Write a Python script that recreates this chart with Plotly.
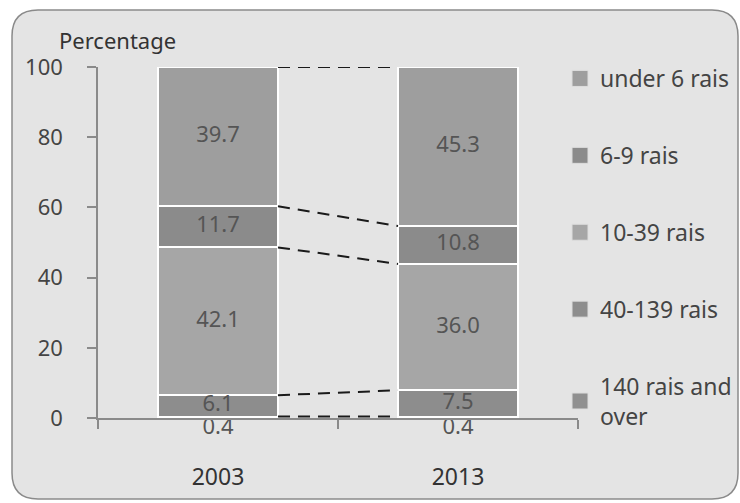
import plotly.graph_objects as go

years = ["2003", "2013"]
# stacked from bottom to top
categories = ["140 rais and<br>over", "40-139 rais", "10-39 rais", "6-9 rais", "under 6 rais"]
values_2003 = [0.4, 6.1, 42.1, 11.7, 39.7]
values_2013 = [0.4, 7.5, 36.0, 10.8, 45.3]
label_2003 = ["0.4", "6.1", "42.1", "11.7", "39.7"]
label_2013 = ["0.4", "7.5", "36.0", "10.8", "45.3"]
y_ticks = [0, 20, 40, 60, 80, 100]

colors = ["#909090", "#8d8d8d", "#a6a6a6", "#8b8b8b", "#9e9e9e"]

FONT = "Noto Sans"
xpos = [0, 1]
bw = 0.5

fig = go.Figure()
for i, cat in enumerate(categories):
    fig.add_trace(go.Bar(
        x=xpos, y=[values_2003[i], values_2013[i]], width=bw,
        name=cat, showlegend=False,
        marker=dict(color=colors[i], line=dict(color="white", width=2)),
        hoverinfo="skip",
    ))
# legend entries (square swatches), top item = last category
n = len(categories)
for i, cat in enumerate(categories):
    fig.add_trace(go.Scatter(
        x=[None], y=[None], mode="markers", name=cat,
        legendgroup=f"g{i}", legendrank=n - i,
        marker=dict(symbol="square", size=16, color=colors[i],
                    line=dict(color="#dddddd", width=1)),
    ))

# dashed connectors between cumulative boundaries
cum03, cum13 = [], []
s3 = s13 = 0
for a, b in zip(values_2003, values_2013):
    s3 += a; s13 += b
    cum03.append(s3); cum13.append(s13)
for a, b in zip(cum03, cum13):
    fig.add_trace(go.Scatter(
        x=[xpos[0] + bw / 2, xpos[1] - bw / 2], y=[a, b], mode="lines",
        line=dict(color="#1a1a1a", width=2, dash="12px,8px"),
        showlegend=False, hoverinfo="skip",
    ))

# segment labels
for xi, vals, labs in [(xpos[0], values_2003, label_2003), (xpos[1], values_2013, label_2013)]:
    mids, base = [], 0
    for v in vals:
        mids.append(base + v / 2)
        base += v
    pos = ["bottom center"] + ["middle center"] * (len(vals) - 1)
    fig.add_trace(go.Scatter(
        x=[xi] * len(vals), y=mids, mode="text", text=labs,
        textposition=pos, textfont=dict(family=FONT, size=22, color="#555555"),
        showlegend=False, hoverinfo="skip", cliponaxis=False,
    ))

W, H = 740, 503
L, R, T, B = 98, 162, 67, 85
pw, ph = W - L - R, H - T - B

def px(x):
    return (x - L) / pw

def py(y):
    return (H - B - y) / ph

# rounded panel background
x0, x1, y0, y1, r = 12, 738, 10, 499, 26
path = (f"M {px(x0 + r)},{py(y0)} L {px(x1 - r)},{py(y0)} "
        f"Q {px(x1)},{py(y0)} {px(x1)},{py(y0 + r)} "
        f"L {px(x1)},{py(y1 - r)} Q {px(x1)},{py(y1)} {px(x1 - r)},{py(y1)} "
        f"L {px(x0 + r)},{py(y1)} Q {px(x0)},{py(y1)} {px(x0)},{py(y1 - r)} "
        f"L {px(x0)},{py(y0 + r)} Q {px(x0)},{py(y0)} {px(x0 + r)},{py(y0)} Z")

fig.update_layout(
    width=W, height=H,
    margin=dict(l=L, r=R, t=T, b=B, autoexpand=False),
    paper_bgcolor="white", plot_bgcolor="rgba(0,0,0,0)",
    barmode="stack",
    font=dict(family=FONT, size=22, color="#444444"),
    shapes=[dict(type="path", xref="paper", yref="paper", path=path,
                 fillcolor="#e4e4e4", line=dict(color="#8a8a8a", width=1.5), layer="below")],
    annotations=[dict(text="Percentage", xref="paper", yref="paper",
                      x=px(57), y=py(40), xanchor="left", yanchor="middle",
                      showarrow=False, font=dict(family=FONT, size=22, color="#333333"))],
    legend=dict(x=px(560), y=py(57), xanchor="left", yanchor="top",
                traceorder="grouped", tracegroupgap=44, maxheight=440,
                itemsizing="trace",
                bgcolor="rgba(0,0,0,0)", font=dict(family=FONT, size=23, color="#444444")),
    showlegend=True,
)
fig.update_xaxes(
    range=[-0.5, 1.5], tickvals=xpos, ticktext=years, ticks="",
    showline=True, linecolor="#8a8a8a", linewidth=1.5, showgrid=False, zeroline=False,
    ticklabelstandoff=38, tickfont=dict(family=FONT, size=23, color="#333333"),
    minor=dict(tickmode="array", tickvals=[-0.5, 0.5, 1.5], ticks="outside",
               ticklen=9, tickcolor="#8a8a8a", tickwidth=1.5, showgrid=False),
)
fig.update_yaxes(
    range=[0, 100], tickvals=y_ticks, ticks="outside", ticklen=9,
    tickcolor="#8a8a8a", tickwidth=1.5,
    showline=True, linecolor="#8a8a8a", linewidth=1.5, showgrid=False, zeroline=False,
    ticklabelstandoff=20, tickfont=dict(family=FONT, size=22, color="#444444"),
)

fig.write_html("out.html", config={"displayModeBar": False},
               post_script="document.body.style.margin='0px';")
